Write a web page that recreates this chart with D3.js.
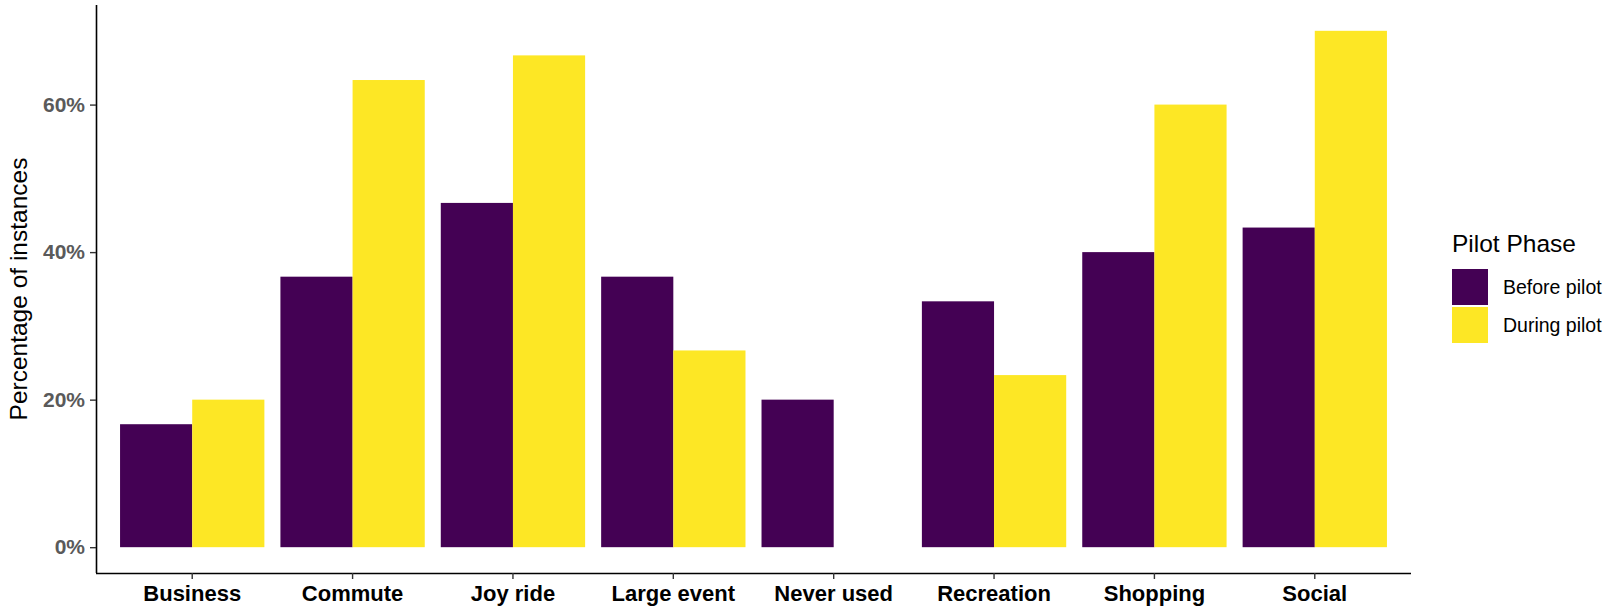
<!DOCTYPE html>
<html>
<head>
<meta charset="utf-8">
<script src="https://cdn.jsdelivr.net/npm/d3@7"></script>
<style>
  html, body { margin: 0; padding: 0; background: #fff; }
  svg { display: block; font-family: Arial, "Liberation Sans", sans-serif; }
</style>
</head>
<body>
<svg id="chart" width="1619" height="608"></svg>
<script>
// ---- data ----
const categories = ["Business", "Commute", "Joy ride", "Large event", "Never used", "Recreation", "Shopping", "Social"];
const phases = ["Before pilot", "During pilot"];
const beforePilot = [16.67, 36.67, 46.67, 36.67, 20.0, 33.33, 40.0, 43.33];
const duringPilot = [20.0, 63.33, 66.67, 26.67, null, 23.33, 60.0, 70.0];
const yTicks = [0, 20, 40, 60];
const phaseColors = ["#440154", "#FDE725"];
const yTitle = "Percentage of instances";
const legendTitle = "Pilot Phase";

// ---- layout ----
const svg = d3.select("#chart");
const panel = { left: 96, right: 1411, top: 5, bottom: 573 };

const x0 = d3.scaleBand().domain(categories)
  .range([panel.left, panel.right]).paddingInner(0.1).paddingOuter(0.15);
const x1 = d3.scaleBand().domain(phases).range([0, x0.bandwidth()]);
const y = d3.scaleLinear().domain([-3.5, 73.5]).range([panel.bottom, panel.top]);
const color = d3.scaleOrdinal().domain(phases).range(phaseColors);

const series = [beforePilot, duringPilot];
const rows = [];
categories.forEach((c, i) => {
  phases.forEach((p, j) => {
    const v = series[j][i];
    if (v !== null && v !== undefined) rows.push({ cat: c, phase: p, value: v });
  });
});

// bars
svg.append("g").selectAll("rect").data(rows).join("rect")
  .attr("x", d => x0(d.cat) + x1(d.phase))
  .attr("width", x1.bandwidth())
  .attr("y", d => y(d.value))
  .attr("height", d => y(0) - y(d.value))
  .attr("fill", d => color(d.phase));

// y axis
const yAxis = svg.append("g").attr("transform", `translate(${panel.left},0)`)
  .call(d3.axisLeft(y).tickValues(yTicks).tickFormat(d => d + "%").tickSizeOuter(0).tickSize(6).tickPadding(5));
yAxis.select(".domain").attr("stroke", "#000").attr("stroke-width", 1.6)
  .attr("d", `M0.5,${panel.top}V${panel.bottom}`);
yAxis.selectAll(".tick line").attr("stroke", "#333").attr("stroke-width", 1.4);
yAxis.selectAll(".tick text").attr("fill", "#5a5a5a").attr("font-size", 21).attr("font-weight", "bold")
  .attr("font-family", "Arial, 'Liberation Sans', sans-serif");

// x axis
const xAxis = svg.append("g").attr("transform", `translate(0,${panel.bottom})`)
  .call(d3.axisBottom(x0).tickSizeOuter(0).tickSize(6).tickPadding(6));
xAxis.select(".domain").attr("stroke", "#000").attr("stroke-width", 1.6)
  .attr("d", `M${panel.left},0.5H${panel.right}`);
xAxis.selectAll(".tick line").attr("stroke", "#333").attr("stroke-width", 1.4);
xAxis.selectAll(".tick text").attr("fill", "#000").attr("font-size", 22).attr("font-weight", "bold")
  .attr("font-family", "Arial, 'Liberation Sans', sans-serif");

// y title
svg.append("text")
  .attr("transform", `translate(27,${(panel.top + panel.bottom) / 2}) rotate(-90)`)
  .attr("text-anchor", "middle")
  .attr("font-size", 24.5)
  .attr("fill", "#000")
  .text(yTitle);

// legend
const lg = svg.append("g").attr("transform", "translate(1452,0)");
lg.append("text").attr("x", 0).attr("y", 252).attr("font-size", 24.5).attr("fill", "#000").text(legendTitle);
const items = lg.selectAll("g.item").data(phases).join("g").attr("class", "item")
  .attr("transform", (d, i) => `translate(0,${269 + i * 38})`);
items.append("rect").attr("width", 36).attr("height", 36).attr("fill", d => color(d));
items.append("text").attr("x", 51).attr("y", 25).attr("font-size", 19.5).attr("fill", "#000").text(d => d);
</script>
</body>
</html>
